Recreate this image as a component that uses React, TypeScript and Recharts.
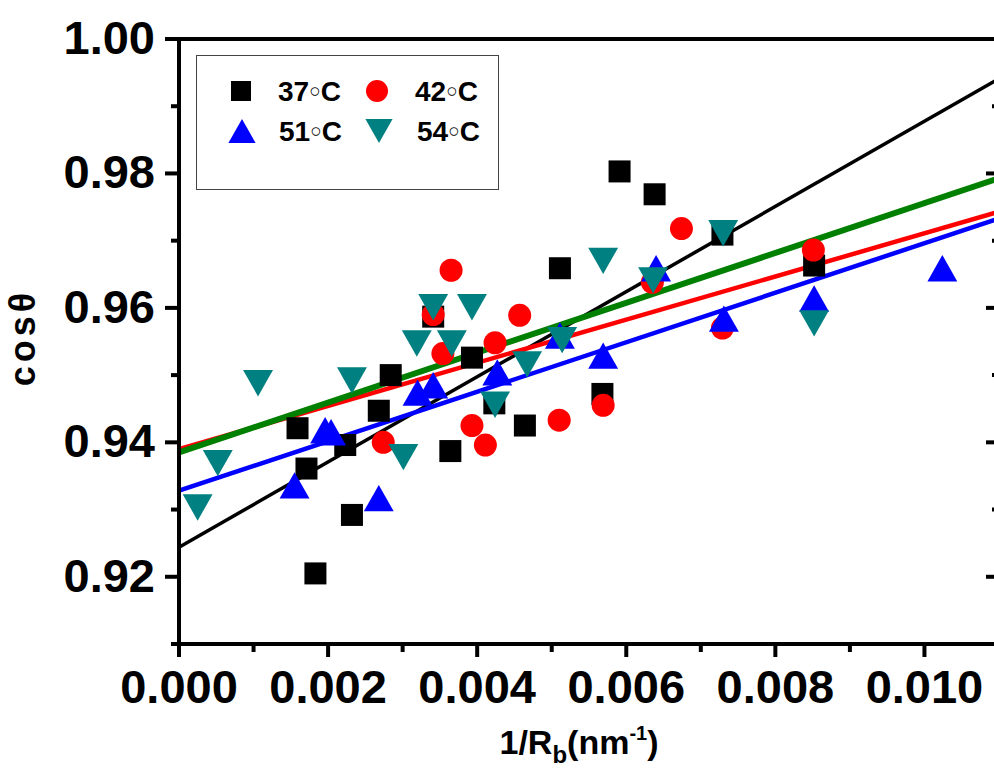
import { ComposedChart, Legend, Line, Scatter, XAxis, YAxis } from "recharts";

const FONT = "'Liberation Sans', Arial, Helvetica, sans-serif";

const xTicks = [0, 0.001, 0.002, 0.003, 0.004, 0.005, 0.006, 0.007, 0.008, 0.009, 0.01, 0.011];
const yTicks = [0.91, 0.92, 0.93, 0.94, 0.95, 0.96, 0.97, 0.98, 0.99, 1.0];

// 37°C (black squares)
const x37 = [0.00159, 0.00171, 0.00183, 0.00223, 0.00232, 0.00268, 0.00284, 0.00341, 0.00364, 0.00393, 0.00423, 0.00464, 0.00511, 0.00568, 0.00591, 0.00638, 0.00729, 0.00852];
const y37 = [0.9421, 0.9361, 0.9205, 0.9396, 0.9292, 0.9447, 0.95, 0.9587, 0.9387, 0.9526, 0.9458, 0.9425, 0.9659, 0.9472, 0.9803, 0.9769, 0.9709, 0.9663];

// 42°C (red circles)
const x42 = [0.00274, 0.00341, 0.00365, 0.00354, 0.00393, 0.00411, 0.00424, 0.00457, 0.0051, 0.00569, 0.00635, 0.00674, 0.00729, 0.00851];
const y42 = [0.94, 0.959, 0.9656, 0.9532, 0.9425, 0.9396, 0.9548, 0.9589, 0.9433, 0.9455, 0.9638, 0.9718, 0.957, 0.9686];

// 51°C (blue triangles)
const x51 = [0.00155, 0.00196, 0.00204, 0.00268, 0.0032, 0.00341, 0.00427, 0.00511, 0.00569, 0.0064, 0.00731, 0.00852, 0.01024];
const y51 = [0.9336, 0.9418, 0.9415, 0.9317, 0.9474, 0.9485, 0.9504, 0.9559, 0.9529, 0.9659, 0.9584, 0.9614, 0.9659];

// 54°C (teal inverted triangles)
const x54 = [0.00025, 0.00052, 0.00106, 0.00232, 0.00301, 0.00319, 0.00341, 0.00366, 0.00393, 0.00424, 0.00467, 0.00514, 0.00569, 0.00636, 0.0073, 0.00852];
const y54 = [0.9303, 0.9369, 0.9488, 0.9492, 0.9378, 0.9547, 0.9601, 0.9547, 0.9601, 0.9456, 0.9516, 0.9552, 0.967, 0.9641, 0.9711, 0.9577];

// linear fits, end points
const fitX = [0, 0.011];
const fit37 = [0.9244, 0.9941];
const fit42 = [0.939, 0.9743];
const fit51 = [0.9328, 0.9733];
const fit54 = [0.9385, 0.9793];

const zip = (xs: number[], ys: number[]) => xs.map((x, i) => ({ x, y: ys[i] }));

type Kind = "square" | "circle" | "up" | "down";

function Marker({ kind, cx, cy, color, s }: { kind: Kind; cx: number; cy: number; color: string; s: number }) {
  if (kind === "square") return <rect x={cx - s / 2} y={cy - s / 2} width={s} height={s} fill={color} />;
  if (kind === "circle") return <circle cx={cx} cy={cy} r={s / 2} fill={color} />;
  const w = s * 1.36;
  const h = s * 1.2;
  if (kind === "up")
    return <polygon points={`${cx},${cy - h / 2} ${cx + w / 2},${cy + h / 2} ${cx - w / 2},${cy + h / 2}`} fill={color} />;
  return <polygon points={`${cx},${cy + h / 2} ${cx + w / 2},${cy - h / 2} ${cx - w / 2},${cy - h / 2}`} fill={color} />;
}

const isMajorX = (v: number) => Math.round(v * 1000) % 2 === 0;
const isMajorY = (v: number) => Math.round(v * 100) % 2 === 0;

function BottomTick({ x, y, payload }: any) {
  const major = isMajorX(payload.value);
  return (
    <g>
      <line x1={x} x2={x} y1={y} y2={y + (major ? 13 : 8)} stroke="#000" strokeWidth={4} />
      {major && (
        <text x={x} y={y + 59} textAnchor="middle" fontSize={47} fontWeight="bold" fontFamily={FONT} fill="#000">
          {payload.value.toFixed(3)}
        </text>
      )}
    </g>
  );
}

function TopTick({ x, y, payload }: any) {
  const major = isMajorX(payload.value);
  return <line x1={x} x2={x} y1={y} y2={y + (major ? 14 : 7)} stroke="#000" strokeWidth={4} />;
}

function LeftTick({ x, y, payload }: any) {
  const major = isMajorY(payload.value);
  return (
    <g>
      <line x1={x} x2={x - (major ? 14 : 8)} y1={y} y2={y} stroke="#000" strokeWidth={4} />
      {major && (
        <text x={x - 24} y={y + 15} textAnchor="end" fontSize={47} fontWeight="bold" fontFamily={FONT} fill="#000">
          {payload.value.toFixed(2)}
        </text>
      )}
    </g>
  );
}

function RightTick({ x, y, payload }: any) {
  const major = isMajorY(payload.value);
  return <line x1={x} x2={x - (major ? 13 : 7)} y1={y} y2={y} stroke="#000" strokeWidth={4} />;
}

function XTitle({ viewBox }: any) {
  const cx = viewBox.x + viewBox.width / 2 - 10;
  return (
    <text x={cx} y={viewBox.y + 110} textAnchor="middle" fontSize={34} fontWeight="bold" fontFamily={FONT} fill="#000">
      <tspan>1/R</tspan>
      <tspan dy={9} fontSize={24}>b</tspan>
      <tspan dy={-9}>(nm</tspan>
      <tspan dy={-14} fontSize={20}>-1</tspan>
      <tspan dy={14}>)</tspan>
    </text>
  );
}

function YTitle({ viewBox }: any) {
  const x = viewBox.x + 35;
  const y = viewBox.y + viewBox.height / 2 - 4;
  return (
    <text x={x} y={y} transform={`rotate(-90, ${x}, ${y})`} textAnchor="middle" fontSize={36} fontWeight="bold" letterSpacing={4} fontFamily={FONT} fill="#000">
      cosθ
    </text>
  );
}

const legendItems: { num: string; kind: Kind; color: string; mx: number; tx: number; row: number }[] = [
  { num: "37", kind: "square", color: "#000000", mx: 44, tx: 81, row: 0 },
  { num: "42", kind: "circle", color: "#ff0000", mx: 180, tx: 218, row: 0 },
  { num: "51", kind: "up", color: "#0000ff", mx: 45, tx: 82, row: 1 },
  { num: "54", kind: "down", color: "#008080", mx: 182, tx: 220, row: 1 },
];

function LegendBox() {
  return (
    <div style={{ width: 303, height: 135, border: "1px solid #444", boxSizing: "border-box", background: "#fff" }}>
      <svg width={301} height={133}>
        {legendItems.map((it) => (
          <g key={it.num}>
            <Marker kind={it.kind} cx={it.mx} cy={35 + it.row * 40} color={it.color} s={it.kind === "circle" ? 22 : 20} />
            <text x={it.tx} y={45 + it.row * 40} fontSize={28} fontWeight="bold" fontFamily={FONT} fill="#000">
              {it.num}
              <tspan dy={-4} fontSize={19} fontWeight="normal">{"\u25CB"}</tspan>
              <tspan dy={4}>C</tspan>
            </text>
          </g>
        ))}
      </svg>
    </div>
  );
}

const axisLine = { stroke: "#000", strokeWidth: 4, strokeLinecap: "square" as const };

export default function App() {
  return (
    <div style={{ position: "absolute", left: 0, top: 0, width: 994, height: 768, overflow: "hidden", background: "#fff" }}>
      <ComposedChart width={1010} height={768} margin={{ top: 0, right: 0, bottom: 0, left: 0 }}>
        <XAxis
          xAxisId="b"
          type="number"
          dataKey="x"
          domain={[0, 0.011]}
          allowDataOverflow
          ticks={xTicks}
          interval={0}
          height={124}
          axisLine={axisLine}
          tickLine={false}
          tickSize={0}
          tickMargin={0}
          tick={BottomTick}
          label={XTitle}
        />
        <XAxis
          xAxisId="t"
          orientation="top"
          type="number"
          domain={[0, 0.011]}
          allowDataOverflow
          ticks={xTicks}
          interval={0}
          height={39}
          axisLine={axisLine}
          tickLine={false}
          tickSize={0}
          tickMargin={0}
          tick={TopTick}
        />
        <YAxis
          yAxisId="l"
          type="number"
          dataKey="y"
          domain={[0.91, 1.0]}
          allowDataOverflow
          ticks={yTicks}
          interval={0}
          width={179}
          axisLine={axisLine}
          tickLine={false}
          tickSize={0}
          tickMargin={0}
          tick={LeftTick}
          label={YTitle}
        />
        <YAxis
          yAxisId="r"
          orientation="right"
          type="number"
          domain={[0.91, 1.0]}
          allowDataOverflow
          ticks={yTicks}
          interval={0}
          width={11}
          axisLine={axisLine}
          tickLine={false}
          tickSize={0}
          tickMargin={0}
          tick={RightTick}
        />
        <Scatter xAxisId="b" yAxisId="l" data={zip(x37, y37)} isAnimationActive={false}
          shape={(p: any) => <Marker kind="square" cx={p.cx} cy={p.cy} color="#000000" s={22} />} />
        <Scatter xAxisId="b" yAxisId="l" data={zip(x42, y42)} isAnimationActive={false}
          shape={(p: any) => <Marker kind="circle" cx={p.cx} cy={p.cy} color="#ff0000" s={23} />} />
        <Scatter xAxisId="b" yAxisId="l" data={zip(x51, y51)} isAnimationActive={false}
          shape={(p: any) => <Marker kind="up" cx={p.cx} cy={p.cy} color="#0000ff" s={22} />} />
        <Scatter xAxisId="b" yAxisId="l" data={zip(x54, y54)} isAnimationActive={false}
          shape={(p: any) => <Marker kind="down" cx={p.cx} cy={p.cy} color="#008080" s={22} />} />
        <Line xAxisId="b" yAxisId="l" data={zip(fitX, fit37)} dataKey="y" type="linear" stroke="#000000" strokeWidth={3.5} dot={false} activeDot={false} isAnimationActive={false} />
        <Line xAxisId="b" yAxisId="l" data={zip(fitX, fit42)} dataKey="y" type="linear" stroke="#ff0000" strokeWidth={4.5} dot={false} activeDot={false} isAnimationActive={false} />
        <Line xAxisId="b" yAxisId="l" data={zip(fitX, fit51)} dataKey="y" type="linear" stroke="#0000ff" strokeWidth={4.5} dot={false} activeDot={false} isAnimationActive={false} />
        <Line xAxisId="b" yAxisId="l" data={zip(fitX, fit54)} dataKey="y" type="linear" stroke="#008000" strokeWidth={6} dot={false} activeDot={false} isAnimationActive={false} />
        <Legend
          layout="horizontal"
          verticalAlign="middle"
          align="center"
          width={303}
          height={135}
          wrapperStyle={{ left: 196, top: 55, width: 303, height: 135 }}
          content={() => <LegendBox />}
        />
      </ComposedChart>
    </div>
  );
}
